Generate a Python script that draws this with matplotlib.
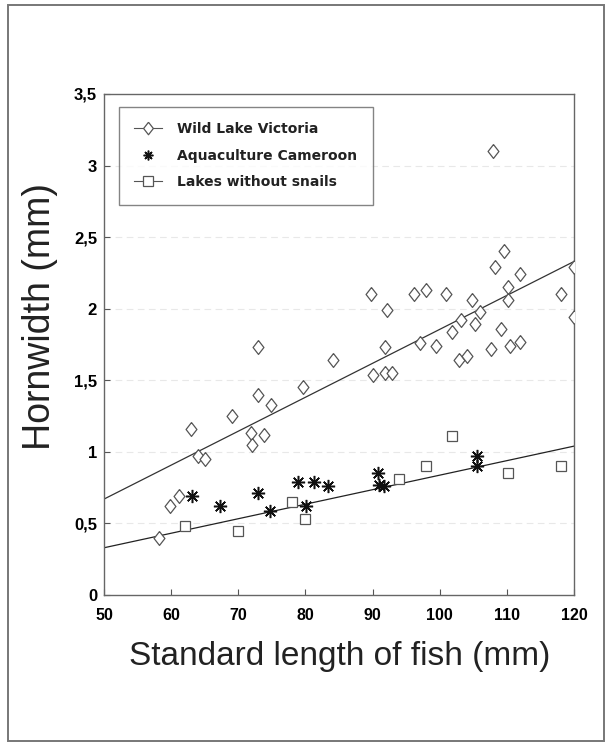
import numpy as np
import matplotlib.pyplot as plt
from matplotlib.lines import Line2D
from matplotlib.patches import Rectangle

# ---------------- data ----------------
wild_x = [58.2, 59.9, 61.1, 62.9, 64.0, 65.1, 69.0, 71.9, 72.0, 73.0, 73.0, 73.8, 74.9,
          79.7, 84.1, 89.8, 90.1, 92.2, 91.9, 91.9, 92.9, 96.1, 97.0, 98.0, 99.4, 100.9,
          101.9, 103.1, 102.8, 104.0, 104.8, 105.2, 106.0, 107.7, 108.0, 108.2, 109.1,
          109.6, 110.1, 110.1, 110.5, 112.0, 112.0, 118.1, 120.0, 120.0]
wild_y = [0.40, 0.62, 0.69, 1.16, 0.97, 0.95, 1.25, 1.13, 1.05, 1.73, 1.40, 1.12, 1.33,
          1.45, 1.64, 2.10, 1.54, 1.99, 1.73, 1.55, 1.55, 2.10, 1.76, 2.13, 1.74, 2.10,
          1.84, 1.92, 1.64, 1.67, 2.06, 1.89, 1.98, 1.72, 3.10, 2.29, 1.86,
          2.40, 2.15, 2.06, 1.74, 2.24, 1.77, 2.10, 2.29, 1.94]

cam_x = [63.1, 67.3, 72.9, 74.7, 78.9, 80.1, 81.3, 83.3, 90.8, 91.0, 91.7, 105.5, 105.5]
cam_y = [0.69, 0.62, 0.71, 0.59, 0.79, 0.62, 0.79, 0.76, 0.85, 0.77, 0.76, 0.97, 0.90]

nosnail_x = [62.1, 70.0, 78.0, 80.0, 93.9, 98.0, 101.9, 110.1, 118.1]
nosnail_y = [0.48, 0.45, 0.65, 0.53, 0.81, 0.90, 1.11, 0.85, 0.90]

# regression lines (end points)
fit_x = [50, 120]
upper_fit = [0.67, 2.33]
lower_fit = [0.33, 1.04]

x_ticks = [50, 60, 70, 80, 90, 100, 110, 120]
y_ticks = [0, 0.5, 1, 1.5, 2, 2.5, 3, 3.5]
y_labels = ['0', '0,5', '1', '1,5', '2', '2,5', '3', '3,5']

# ---------------- figure ----------------
plt.rcParams['font.family'] = ['Liberation Sans', 'DejaVu Sans']
W, H = 609, 746
fig = plt.figure(figsize=(W / 100, H / 100), dpi=100)
ax = fig.add_axes([104 / W, 1 - 595 / H, 470 / W, 501 / H])

# outer frame of the scanned figure
fig.patches.append(Rectangle((8 / W, 1 - 741 / H), 596 / W, 736 / H, transform=fig.transFigure,
                             fill=False, edgecolor='#777777', lw=1.4))

# faint grid lines
for yv in [0.5, 1, 1.5, 2, 2.5, 3]:
    ax.axhline(yv, color='#e8e8e8', lw=0.8, ls=(0, (6, 4)), zorder=0)

ax.plot(fit_x, upper_fit, color='#333333', lw=0.9, zorder=2)
ax.plot(fit_x, lower_fit, color='#222222', lw=0.9, zorder=2)

diamond = [(0, 1), (0.78, 0), (0, -1), (-0.78, 0), (0, 1)]
ax.plot(wild_x, wild_y, ls='none', marker=diamond, ms=10, mfc='white', mec='#555555', mew=0.9, zorder=3)
ax.plot(cam_x, cam_y, ls='none', marker=(8, 2, 0), ms=9.5, mec='#111111', mew=1.1, zorder=4)
ax.plot(nosnail_x, nosnail_y, ls='none', marker='s', ms=7, mfc='white', mec='#555555', mew=0.9, zorder=3)

ax.set_xlim(50, 120)
ax.set_ylim(0, 3.5)
ax.set_xticks(x_ticks)
ax.set_xticklabels([str(v) for v in x_ticks], fontsize=11.5, fontweight='bold')
ax.set_yticks(y_ticks)
ax.set_yticklabels(y_labels, fontsize=12, fontweight='bold')
ax.tick_params(direction='in', length=4, width=0.8, color='#555555')
ax.tick_params(axis='x', pad=9)
ax.tick_params(axis='y', pad=5)
for s in ax.spines.values():
    s.set_color('#666666')
    s.set_linewidth(1.0)

fig.text(340 / W, 1 - 657 / H, 'Standard length of fish (mm)', fontsize=24,
         ha='center', va='center', color='#222222')
fig.text(40 / W, 1 - 316 / H, 'Hornwidth (mm)', fontsize=27, rotation=90,
         ha='center', va='center', color='#222222')

handles = [
    Line2D([], [], color='#555555', lw=0.8, marker=diamond, ms=9, mfc='white', mec='#555555', mew=0.9),
    Line2D([], [], ls='none', marker=(8, 2, 0), ms=7, mec='#111111', mew=1.1),
    Line2D([], [], color='#555555', lw=0.8, marker='s', ms=7, mfc='white', mec='#555555', mew=0.9),
]
labels = ['Wild Lake Victoria', 'Aquaculture Cameroon', 'Lakes without snails']
leg = ax.legend(handles, labels, loc='upper left', bbox_to_anchor=(0.032, 0.974),
                borderaxespad=0, frameon=True, fancybox=False, edgecolor='#666666',
                prop={'family': 'DejaVu Sans', 'weight': 'bold', 'size': 10},
                handlelength=2.0, handletextpad=1.1, labelspacing=0.9, borderpad=1.1)
leg.get_frame().set_linewidth(1.0)
for t in leg.get_texts():
    t.set_color('#222222')

fig.savefig('out.png', dpi=100)
